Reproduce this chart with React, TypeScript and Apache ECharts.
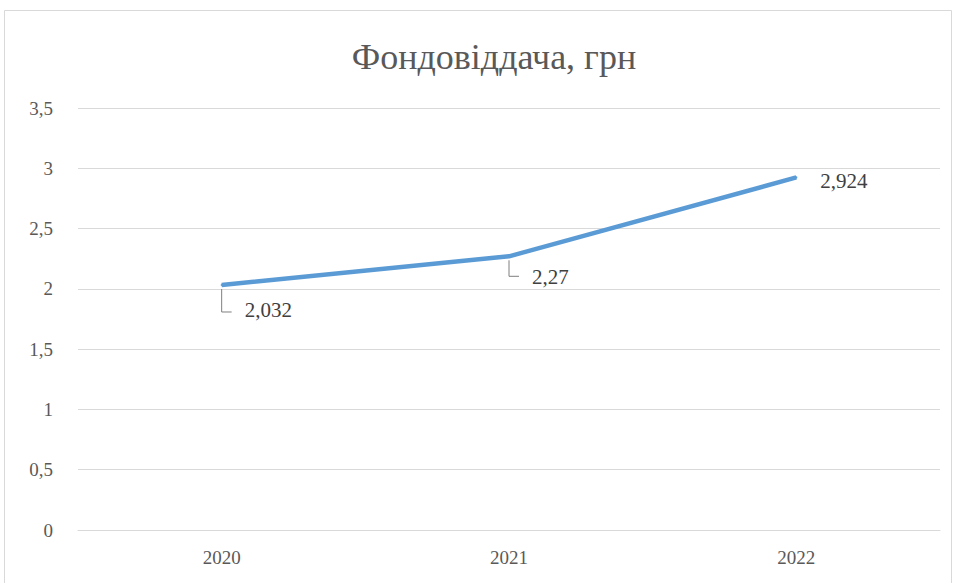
import React, { useEffect, useRef } from "react";
import * as echarts from "echarts";

const categories = ["2020", "2021", "2022"];
const values = [2.032, 2.27, 2.924];
const valueLabels = ["2,032", "2,27", "2,924"];
const titleText = "Фондовіддача, грн";

// label placement (pixels) relative to the data point
const labelOffsets: [number, number][] = [
  [22, 25],
  [22, 21],
  [23, 4],
];
// leader line drop (pixels) below each point; 0 = no leader
const leaderDrops = [27, 20, 0];

export default function App() {
  const ref = useRef<HTMLDivElement>(null);
  useEffect(() => {
    document.body.style.margin = "0";
    const chart = echarts.init(ref.current!, undefined, { renderer: "svg" });
    const font = "serif";
    chart.setOption({
      animation: false,
      backgroundColor: "#ffffff",
      title: {
        text: titleText,
        left: 489,
        top: 34,
        textAlign: "center",
        textStyle: { fontFamily: font, fontSize: 36, fontWeight: "normal", color: "#595959" },
      },
      graphic: [
        {
          type: "rect",
          shape: { x: 4.5, y: 10.5, width: 947, height: 590 },
          style: { fill: "none", stroke: "#d9d9d9", lineWidth: 1 },
          silent: true,
        },
      ],
      grid: { left: 78, right: 16, top: 108, bottom: 53, containLabel: false },
      xAxis: {
        type: "category",
        data: categories,
        boundaryGap: true,
        axisLine: { show: true, lineStyle: { color: "#d9d9d9" } },
        axisTick: { show: false },
        axisLabel: { fontFamily: font, fontSize: 19, color: "#595959", margin: 18 },
      },
      yAxis: {
        type: "value",
        min: 0,
        max: 3.5,
        interval: 0.5,
        axisLine: { show: false },
        axisTick: { show: false },
        splitLine: { lineStyle: { color: "#d9d9d9", width: 1 } },
        axisLabel: {
          fontFamily: font,
          fontSize: 19,
          color: "#595959",
          margin: 25,
          formatter: (v: number) => String(v).replace(".", ","),
        },
      },
      series: [
        {
          type: "line",
          data: values.map((v, i) => ({
            value: v,
            label: { offset: labelOffsets[i] },
          })),
          symbol: "circle",
          symbolSize: 2,
          showSymbol: true,
          itemStyle: { color: "#5b9bd5" },
          lineStyle: { color: "#5b9bd5", width: 4.5 },
          label: {
            show: true,
            position: "right",
            distance: 0,
            fontFamily: font,
            fontSize: 21,
            color: "#404040",
            formatter: (p: any) => valueLabels[p.dataIndex],
          },
          z: 3,
        },
        {
          type: "custom",
          data: values.map((v, i) => [i, v]),
          z: 2,
          silent: true,
          renderItem: (params: any, api: any) => {
            const i = params.dataIndex;
            const drop = leaderDrops[i];
            if (!drop) return null;
            const pt = api.coord([api.value(0), api.value(1)]);
            return {
              type: "polyline",
              shape: {
                points: [
                  [pt[0], pt[1] + 4],
                  [pt[0], pt[1] + drop],
                  [pt[0] + 10, pt[1] + drop],
                ],
              },
              style: { stroke: "#7f7f7f", lineWidth: 1, fill: "none" },
            };
          },
        },
      ],
    });
    return () => chart.dispose();
  }, []);
  return <div ref={ref} style={{ width: 956, height: 583, position: "absolute", left: 0, top: 0 }} />;
}
